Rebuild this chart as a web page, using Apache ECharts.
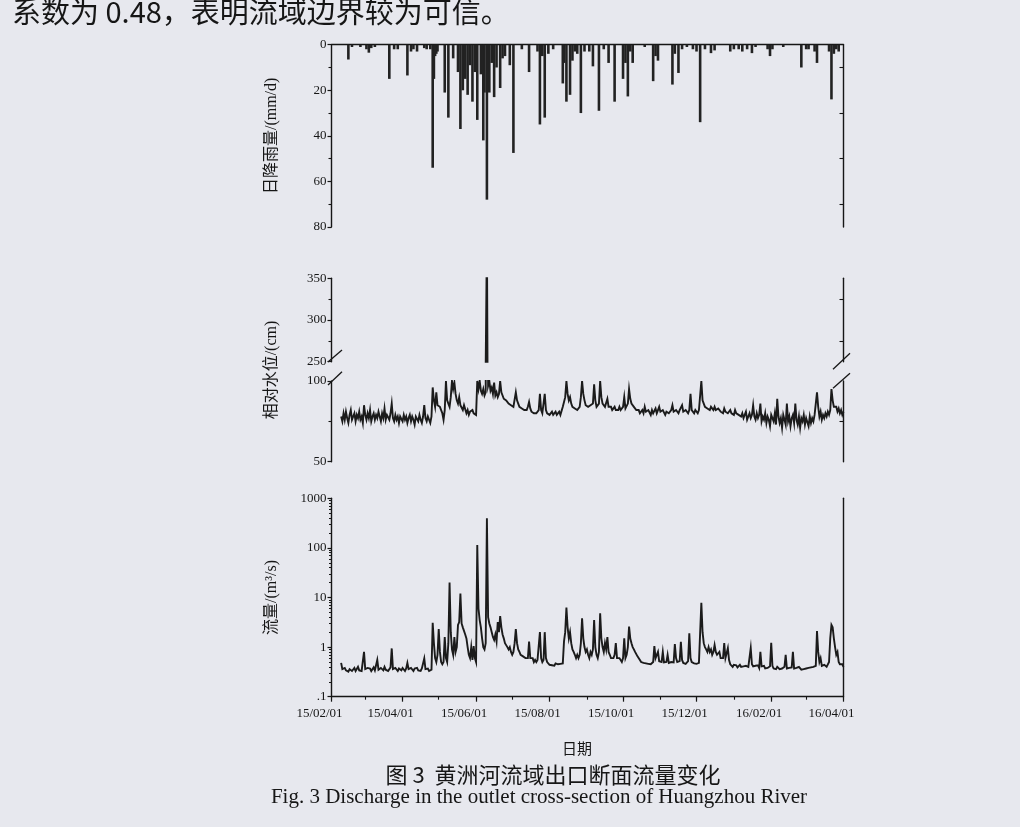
<!DOCTYPE html>
<html><head><meta charset="utf-8">
<script src="https://cdn.jsdelivr.net/npm/echarts@6.0.0/dist/echarts.min.js"></script>
<style>html,body{margin:0;padding:0;background:#e7e8ee;}#c{width:1020px;height:827px;}</style>
</head><body><div id="c"></div>
<script>
// ---------------- data ----------------
const xMin = '2015-02-01', xMax = '2016-04-01';
const xLabelDates = ['2015-02-01','2015-04-01','2015-06-01','2015-08-01','2015-10-01','2015-12-01','2016-02-01','2016-04-01'];
const xLabelTexts = ['15/02/01','15/04/01','15/06/01','15/08/01','15/10/01','15/12/01','16/02/01','16/04/01'];
const xMonthTicks = ['2015-02-01','2015-03-01','2015-04-01','2015-05-01','2015-06-01','2015-07-01','2015-08-01','2015-09-01','2015-10-01','2015-11-01','2015-12-01','2016-01-01','2016-02-01','2016-03-01','2016-04-01'];

const rainDates = ['2015-02-15','2015-02-18','2015-02-25','2015-03-02','2015-03-04','2015-03-06','2015-03-09','2015-03-21','2015-03-25','2015-03-28',
 '2015-04-05','2015-04-08','2015-04-10','2015-04-13','2015-04-19','2015-04-21','2015-04-24','2015-04-26','2015-04-27','2015-04-28','2015-04-29','2015-04-30',
 '2015-05-06','2015-05-09','2015-05-13','2015-05-17','2015-05-19','2015-05-21','2015-05-23','2015-05-25','2015-05-27','2015-05-29','2015-05-31',
 '2015-06-02','2015-06-05','2015-06-07','2015-06-08','2015-06-10','2015-06-12','2015-06-14','2015-06-16','2015-06-18','2015-06-21','2015-06-23','2015-06-25','2015-06-29',
 '2015-07-02','2015-07-09','2015-07-15','2015-07-22','2015-07-24','2015-07-26','2015-07-28','2015-07-31',
 '2015-08-04','2015-08-12','2015-08-13','2015-08-15','2015-08-18','2015-08-20','2015-08-22','2015-08-24','2015-08-27','2015-08-30',
 '2015-09-03','2015-09-06','2015-09-11','2015-09-15','2015-09-19','2015-09-24',
 '2015-10-01','2015-10-03','2015-10-05','2015-10-07','2015-10-09','2015-10-19','2015-10-26','2015-10-28','2015-10-30',
 '2015-11-11','2015-11-13','2015-11-16','2015-11-19','2015-11-23','2015-11-28',
 '2015-12-01','2015-12-04','2015-12-08','2015-12-13','2015-12-16','2015-12-29',
 '2016-01-01','2016-01-05','2016-01-08','2016-01-12','2016-01-16','2016-01-19','2016-01-29','2016-01-31',
 '2016-02-02','2016-02-11','2016-02-26','2016-03-01','2016-03-03','2016-03-08','2016-03-10','2016-03-20','2016-03-22','2016-03-24','2016-03-26','2016-03-28'];
const rainValues = [6.5,1,1,2,3.5,1.5,1,15,2,2,
 13.5,3,2,3,1.5,2,2,54,15,5,4,3,
 21,32,6,12,37,20,15,22,9,25,12,
 33,13,42,21,68,21,8,23,10,19,6,5,9,
 47.5,2,12,3,35,5,32,4,
 2,17,8,25,22,7,3,4,30,3,
 3,9.5,29,2,8,25,
 15,8,22.7,3,8,1,16,5,7,
 17.5,4,12.4,2,1,2,
 3,34,2,3.7,2.5,3,
 2,2,3,2,3.7,1,2,5,
 2,1,10,2,2,3,8,3,24,4,2,3];

// daily relative water level (cm), starting 2015-02-09
const levelStart = '2015-02-09';
const levelValues = [
 78,75,80,76,81,77,74,79,82,76, 78,80,75,79,77,81,76,78,74,85, 79,76,80,77,82,75,78,80,76,79,
 77,81,78,75,80,77,83,76,79,78, 76,80,86,77,75,79,76,78,74,78, 77,75,79,76,78,74,77,79,75,78,
 76,73,78,77,75,79,76,74,78,85, 77,75,78,76,74,78,
 96,88,84,93,85,86,84,82,80,76, 82,100,88,86,84,90,100,95,99,92, 88,86,90,85,84,82,85,84,80,82,
 79,81,80,82,80,81,79,
 100,95,100,94,92,95,91,93,400,97, 100,94,96,92,99,91,93,90,92,100, 93,91,89,90,88,89,86,87,85,86,
 84,85,93,88,86,84,85,83,84,82, 83,82,84,87,83,81,82,80,81,80, 81,82,92,82,80,81,92,82,80,81,
 79,80,81,79,80,81,79,80,81,79, 80,84,87,90,100,92,88,90,86,84, 85,83,84,82,83,84,90,100,92,88,
 85,86,84,83,85,84,86,98,88,84, 85,86,100,90,86,85,84,85,89,84, 83,84,82,83,84,82,83,82,84,82,
 83,84,90,83,84,86,95,89,86,85, 84,83,82,81,82,80,81,82,80,84, 81,80,82,81,79,82,80,81,83,80,
 82,84,81,80,82,81,79,81,82,80, 81,82,85,81,80,82,81,80,82,81, 85,81,80,82,81,80,82,92,82,81,
 80,82,81,80,82,81,100,88,86,84, 85,83,84,82,84,83,82,84,82,81, 83,82,81,82,80,83,81,82,80,81,
 82,80,81,79,82,80,81,79,80,78, 80,77,79,81,76,78,80,77,79,85, 78,76,80,77,79,86,75,78,76,80,
 74,78,76,72,79,77,75,80,73,89, 78,74,77,71,79,76,73,86,75,78, 72,77,79,74,86,76,73,78,71,77,
 75,79,73,77,76,72,78,74,77,75, 79,80,93,84,78,81,76,79,77,80, 78,81,79,82,95,88,84,83,84,81,
 83,80,82,79,81];

// daily discharge (m3/s), starting 2015-02-09
const flowStart = '2015-02-09';
const flowValues = [
 0.48,0.36,0.33,0.38,0.34,0.37,0.32,0.36,0.39,0.33, 0.35,0.38,0.33,0.36,0.4,0.34,0.37,0.33,0.36,0.8,
 0.36,0.33,0.38,0.35,0.37,0.33,0.36,0.39,0.34,0.37, 0.55,0.35,0.33,0.38,0.36,0.34,0.4,0.35,0.37,0.33,
 0.36,0.39,0.94,0.36,0.34,0.38,0.35,0.33,0.37,0.36, 0.34,0.38,0.35,0.33,0.37,0.48,0.36,0.34,0.38,0.35,
 0.33,0.37,0.35,0.38,0.34,0.36,0.33,0.37,0.35,0.59, 0.36,0.34,0.37,0.33,0.36,0.35,
 3.1,1.2,0.6,0.5,0.7,2.3,0.8,0.5,0.45,0.5, 1.6,0.6,0.5,1.2,20,2.0,0.9,0.7,1.6,0.8,
 1.0,2.8,3.2,12,3.0,2.5,2.6,1.8,1.5,1.0, 0.7,0.6,1.0,0.55,1.05,0.6,0.5,
 114,6,3.5,2.5,1.5,1.0,0.9,1.2,394,4.0, 3.0,2.5,2.0,1.6,1.4,1.8,1.3,3.2,2.0,4.2,
 2.5,1.8,1.5,1.2,1.3,1.0,0.9,1.0,0.8,0.7, 0.8,1.2,2.3,1.2,0.9,0.8,0.7,0.75,0.65,0.7,
 0.6,0.65,0.6,1.3,0.6,0.55,0.6,0.5,0.55,0.5, 0.55,0.6,2.0,0.6,0.5,0.55,2.0,0.6,0.5,0.46,
 0.44,0.48,0.43,0.46,0.42,0.47,0.44,0.45,0.42,0.46, 0.44,0.47,1.3,2.0,6.3,2.5,1.5,2.0,1.2,0.9,
 0.8,0.7,0.6,0.7,0.6,0.7,1.2,3.8,1.5,1.0, 0.8,0.9,0.7,0.6,0.8,0.7,0.9,3.5,1.0,0.7,
 0.6,0.8,4.8,1.5,1.0,0.8,1.2,0.9,1.6,0.8, 0.7,0.6,0.65,0.6,0.7,1.2,0.6,0.55,0.6,0.55,
 0.5,0.6,1.5,0.6,0.7,1.0,2.6,1.5,1.2,1.0, 0.9,0.8,0.75,0.65,0.6,0.55,0.5,0.52,0.48,0.5,
 0.47,0.5,0.46,0.49,0.45,0.48,0.5,1.05,0.6,0.55, 0.8,0.52,0.48,0.5,0.8,0.49,0.46,0.5,0.7,0.48,
 0.47,0.5,0.46,0.49,1.15,0.6,0.5,0.48,0.52,1.28, 0.55,0.48,0.5,0.46,0.49,0.52,1.9,0.6,0.5,0.48,
 0.47,0.5,0.46,0.49,0.48,0.5,7.8,2.0,1.2,1.0, 0.9,0.8,1.0,0.8,0.9,0.7,0.8,1.1,0.8,0.7,
 0.65,0.8,0.6,0.65,0.6,1.2,0.6,0.55,0.95,0.55, 0.45,0.42,0.4,0.44,0.41,0.43,0.39,0.42,0.44,0.4,
 0.43,0.41,0.39,0.42,0.44,0.4,0.42,0.95,0.45,0.41, 0.39,0.42,0.4,0.43,0.38,0.8,0.41,0.39,0.42,0.37,
 0.4,0.38,0.36,0.41,1.22,0.42,0.37,0.39,0.36,0.4, 0.38,0.36,0.39,0.37,0.35,0.4,0.7,0.37,0.35,0.38,
 0.36,0.39,0.8,0.37,0.35,0.38,0.36,0.4,0.37,0.35, 0.38,0.36,0.39,0.37,0.35,0.38,0.36,0.39,0.37,0.4,
 0.38,0.42,2.1,0.8,0.5,0.6,0.42,0.4,0.44,0.41, 0.4,0.43,0.5,1.5,2.8,2.5,1.5,1.0,0.7,0.8,
 0.5,0.45,0.42,0.45,0.4];

const logTicks = [0.1, 1, 10, 100, 1000];
const logTickLabels = ['.1', '1', '10', '100', '1000'];

// ---------------- helpers: dates -> day number since xMin ----------------
function utc(s) { const p = s.split('-').map(Number); return Date.UTC(p[0], p[1] - 1, p[2]); }
const DAY = 86400000;
function dayNum(s) { return Math.round((utc(s) - utc(xMin)) / DAY); }
const rainData = rainDates.map((d, i) => [dayNum(d), rainValues[i]]);
const levelData = levelValues.map((v, i) => [dayNum(levelStart) + i, v]);
const flowData = flowValues.map((v, i) => [dayNum(flowStart) + i, v]);
const xLabelPos = xLabelDates.map(dayNum);
const xMonthPos = xMonthTicks.map(dayNum);

// ---------------- layout ----------------
const L = 331.5, R = 843.5, W = R - L;
const G = [
  { top: 44.7, h: 182.3 },
  { top: 278.3, h: 83.4 },
  { top: 381, h: 80.7 },
  { top: 498.3, h: 198.4 }
];
const INK = '#161616';
const serif = "'Liberation Serif','Times New Roman',serif";
const axLine = { show: true, onZero: false, lineStyle: { color: INK, width: 1.4 } };
const lab = { fontFamily: serif, fontSize: 13, color: INK };
const minorLog = [];
for (let n = -1; n < 3; n++) for (let k = 2; k <= 9; k++) minorLog.push(n + Math.log10(k));

const chart = echarts.init(document.getElementById('c'), null, { renderer: 'canvas' });
const X0 = 0, X1 = dayNum(xMax);
const baseX = (gi) => ({ type: 'value', gridIndex: gi, min: X0, max: X1, splitLine: { show: false } });

function leftY(gi, min, max, interval, extra) {
  return Object.assign({ type: 'value', gridIndex: gi, position: 'left', min, max, interval,
    axisLine: axLine, axisTick: { show: true, length: 4, lineStyle: { color: INK, width: 1.2 } },
    minorTick: { show: true, splitNumber: 2, length: 3, lineStyle: { color: INK, width: 1.1 } },
    axisLabel: Object.assign({ margin: 5 }, lab), splitLine: { show: false } }, extra || {});
}
function rightY(gi, min, max, interval, extra) {
  return Object.assign({ type: 'value', gridIndex: gi, position: 'right', min, max, interval,
    axisLine: axLine, axisTick: { show: false, inside: true },
    minorTick: { show: true, splitNumber: 2, length: 4, lineStyle: { color: INK, width: 1.1 } },
    axisLabel: { show: false }, splitLine: { show: false } }, extra || {});
}
const lineStyle = { color: '#1b1b1b', width: 1.9, join: 'miter' };

const option = {
  backgroundColor: '#e7e8ee',
  animation: false,
  grid: G.map(g => ({ left: L, width: W, top: g.top, height: g.h })),
  xAxis: [
    Object.assign(baseX(0), { position: 'top', axisLine: axLine, axisTick: { show: false }, axisLabel: { show: false } }),
    Object.assign(baseX(1), { show: false }),
    Object.assign(baseX(2), { show: false }),
    Object.assign(baseX(3), { position: 'bottom', axisLine: axLine,
      axisTick: { show: true, length: 5, customValues: xLabelPos, lineStyle: { color: INK, width: 1.2 } },
      axisLabel: Object.assign({ customValues: xLabelPos, margin: 10, hideOverlap: false, showMinLabel: true, showMaxLabel: true,
        padding: [0, 24, 0, 0],
        formatter: (v) => { const i = xLabelPos.indexOf(Math.round(v)); return i >= 0 ? xLabelTexts[i] : ''; } }, lab) }),
    Object.assign(baseX(3), { position: 'bottom', axisLine: { show: false, onZero: false },
      axisTick: { show: true, length: 3, customValues: xMonthPos, lineStyle: { color: INK, width: 1.1 } },
      axisLabel: { show: false } })
  ],
  yAxis: [
    leftY(0, 0, 80, 20, { inverse: true }),
    rightY(0, 0, 80, 20, { inverse: true }),
    leftY(1, 250, 350, 50),
    rightY(1, 250, 350, 50),
    leftY(2, 50, 100, 50),
    rightY(2, 50, 100, 50),
    { type: 'log', logBase: 10, gridIndex: 3, position: 'left', min: 0.1, max: 1000,
      axisLine: axLine, axisTick: { show: true, length: 4, lineStyle: { color: INK, width: 1.2 } },
      axisLabel: Object.assign({ margin: 5, formatter: (v) => { const i = logTicks.findIndex(t => Math.abs(t - v) < t * 1e-6); return i >= 0 ? logTickLabels[i] : ''; } }, lab),
      splitLine: { show: false } },
    { type: 'value', gridIndex: 3, position: 'left', min: -1, max: 3,
      axisLine: { show: false, onZero: false }, axisLabel: { show: false }, splitLine: { show: false },
      axisTick: { show: true, length: 2.5, customValues: minorLog, lineStyle: { color: INK, width: 1 } } },
    { type: 'log', logBase: 10, gridIndex: 3, position: 'right', min: 0.1, max: 1000,
      axisLine: axLine, axisTick: { show: false }, axisLabel: { show: false }, splitLine: { show: false } }
  ],
  series: [
    { type: 'bar', xAxisIndex: 0, yAxisIndex: 0, data: rainData, barWidth: 2.6, itemStyle: { color: '#222222' } },
    { type: 'line', xAxisIndex: 1, yAxisIndex: 2, data: levelData, symbol: 'none', clip: true, lineStyle },
    { type: 'line', xAxisIndex: 2, yAxisIndex: 4, data: levelData, symbol: 'none', clip: true, lineStyle },
    { type: 'line', xAxisIndex: 3, yAxisIndex: 6, data: flowData, symbol: 'none', clip: true, lineStyle }
  ]
};
chart.setOption(option);

// decorations: axis-break marks, axis titles and captions
const yU = G[1].top + G[1].h, yLw = G[2].top;
const brk = (x1, y1, x2, y2) => ({ type: 'line', shape: { x1, y1, x2, y2 }, style: { stroke: INK, lineWidth: 1.3 } });
const vText = (text, x, y) => ({ type: 'text', x, y, rotation: Math.PI / 2,
  style: { text, font: "16px 'Liberation Serif','Noto Sans CJK SC'", fill: INK, textAlign: 'center', textVerticalAlign: 'middle', align: 'center', verticalAlign: 'middle' } });
const hText = (text, x, y, font, align) => ({ type: 'text', x, y,
  style: { text, font, fill: INK, textAlign: align || 'center', textVerticalAlign: 'middle', align: align || 'center', verticalAlign: 'middle' } });
chart.setOption({ graphic: { elements: [
  brk(L - 3.5, yU + 0.3, L + 10.5, yU - 11.7),
  brk(L - 3.5, yLw + 4, L + 10.5, yLw - 9.3),
  brk(R - 10.5, yU + 7.6, R + 6.5, yU - 8.4),
  brk(R - 10.5, yLw + 7.3, R + 6.5, yLw - 7.7),
  vText('日降雨量/(mm/d)', 272, G[0].top + G[0].h / 2),
  vText('相对水位/(cm)', 272, (G[1].top + G[2].top + G[2].h) / 2),
  vText('流量/(m³/s)', 272, G[3].top + G[3].h / 2),
  hText('日期', 577, 748, "15px 'Noto Sans CJK SC'"),
  hText('图 3  黄洲河流域出口断面流量变化', 553, 775, "22px 'Noto Sans CJK SC'"),
  hText('Fig. 3 Discharge in the outlet cross-section of Huangzhou River', 539, 797, "21px 'Liberation Serif'"),
  hText('系数为 0.48，表明流域边界较为可信。', 12, 12, "29px 'Noto Sans CJK SC'", 'left')
] } });
</script></body></html>
